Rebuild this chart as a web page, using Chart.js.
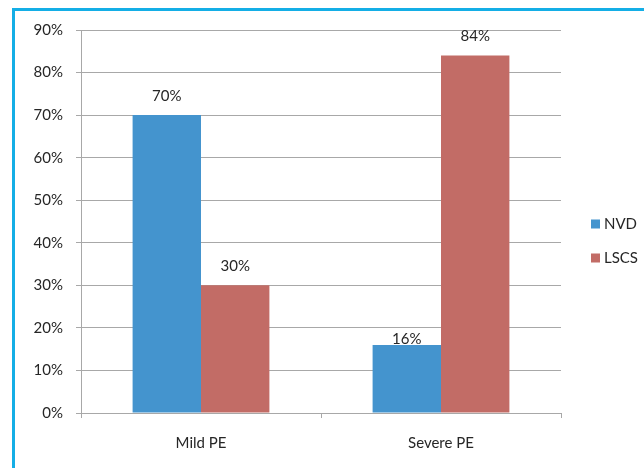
<!DOCTYPE html>
<html>
<head>
<meta charset="utf-8">
<script src="https://cdn.jsdelivr.net/npm/chart.js@4/dist/chart.umd.min.js"></script>
<style>
html,body{margin:0;padding:0;background:#fff;}
#wrap{width:644px;height:468px;position:relative;}
</style>
</head>
<body>
<div id="wrap"><canvas id="c" width="644" height="468"></canvas></div>
<script>
const categories = ["Mild PE", "Severe PE"];
const seriesNames = ["NVD", "LSCS"];
const nvdValues = [70, 16];
const lscsValues = [30, 84];
const yTickMax = 90;
const yTickStep = 10;

const FONT = "Lato, 'Open Sans', sans-serif";
const FS = 15;
const colors = ["#4494CE", "#C26C66"];
const gridColor = "#A8A8A8";
const textColor = "#262626";

const framePlugin = {
  id: 'frame',
  beforeDraw(chart) {
    const ctx = chart.ctx;
    ctx.save();
    ctx.fillStyle = '#fff';
    ctx.fillRect(0, 0, chart.width, chart.height);
    ctx.fillStyle = '#14AEE6';
    ctx.fillRect(12, 8, chart.width - 12, 3);
    ctx.fillRect(12, 8, 3, chart.height - 8);
    ctx.restore();
  }
};

const labelPlugin = {
  id: 'vals',
  afterDatasetsDraw(chart) {
    const ctx = chart.ctx;
    ctx.save();
    ctx.font = FS + "px " + FONT;
    ctx.fillStyle = textColor;
    ctx.textAlign = "center";
    ctx.textBaseline = "middle";
    chart.data.datasets.forEach((ds, di) => {
      const meta = chart.getDatasetMeta(di);
      meta.data.forEach((bar, i) => {
        const v = ds.data[i];
        const off = (v < 20) ? 6 : 19;
        ctx.fillText(v + "%", bar.x, bar.y - off);
      });
    });
    ctx.restore();
  }
};

const legendPlugin = {
  id: 'customLegend',
  afterDraw(chart) {
    const ctx = chart.ctx;
    ctx.save();
    ctx.font = FS + "px " + FONT;
    ctx.textBaseline = "middle";
    ctx.textAlign = "left";
    chart.data.datasets.forEach((ds, i) => {
      const cy = 224 + i * 34;
      ctx.fillStyle = ds.backgroundColor;
      ctx.fillRect(591, cy - 4.5, 9, 9);
      ctx.fillStyle = textColor;
      ctx.fillText(ds.label, 604, cy);
    });
    ctx.restore();
  }
};

new Chart(document.getElementById('c'), {
  type: 'bar',
  data: {
    labels: categories,
    datasets: [
      { label: seriesNames[0], data: nvdValues, backgroundColor: colors[0] },
      { label: seriesNames[1], data: lscsValues, backgroundColor: colors[1] }
    ]
  },
  options: {
    responsive: false,
    animation: false,
    devicePixelRatio: 1,
    layout: { padding: { left: 0, top: 30, right: 83, bottom: 0 } },
    datasets: { bar: { categoryPercentage: 0.57, barPercentage: 1.0 } },
    plugins: { legend: { display: false }, tooltip: { enabled: false } },
    scales: {
      x: {
        afterFit(s) { s.height = 55; },
        grid: { drawOnChartArea: false, drawTicks: true, tickLength: 5, color: gridColor, offset: true },
        border: { color: gridColor, width: 1 },
        ticks: { font: { family: FONT, size: FS }, color: textColor, padding: 16 }
      },
      y: {
        min: 0, max: yTickMax,
        afterFit(s) { s.width = 81; },
        grid: { color: gridColor, tickLength: 5 },
        border: { color: gridColor, width: 1 },
        ticks: {
          stepSize: yTickStep,
          font: { family: FONT, size: FS }, color: textColor, padding: 13,
          callback: v => v + "%"
        }
      }
    }
  },
  plugins: [framePlugin, labelPlugin, legendPlugin]
});
</script>
</body>
</html>
